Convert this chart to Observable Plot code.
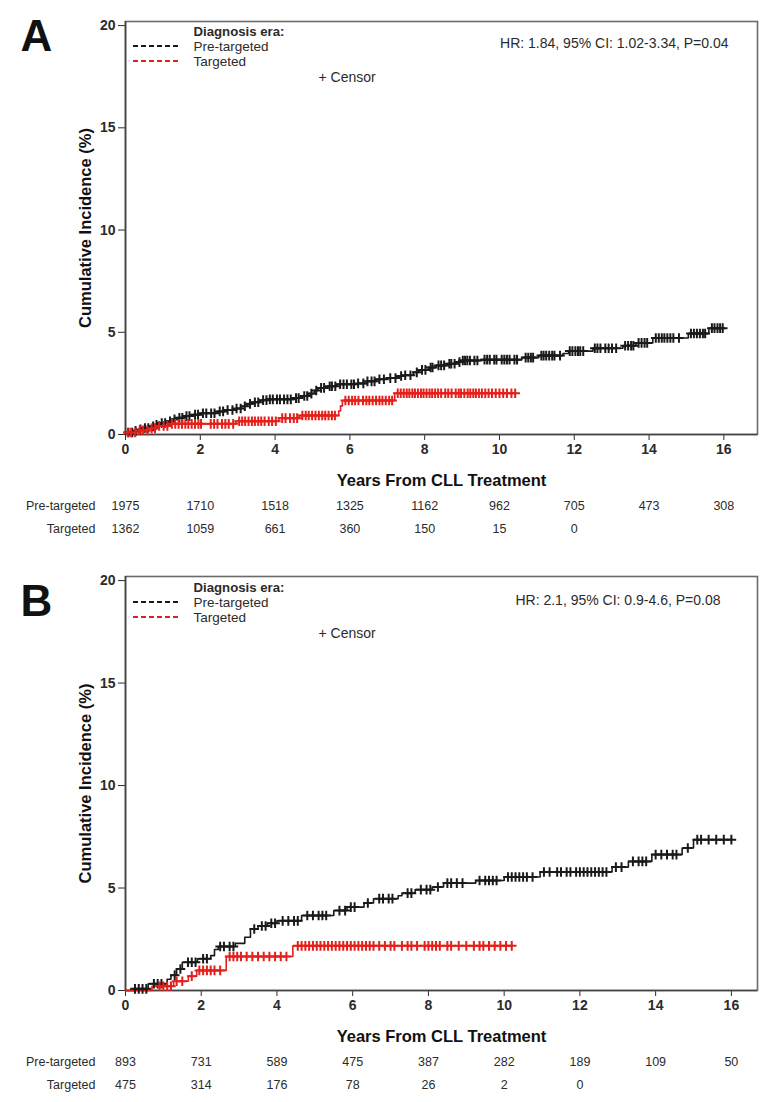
<!DOCTYPE html>
<html>
<head>
<meta charset="utf-8">
<script src="https://cdn.jsdelivr.net/npm/d3@7"></script>
<script src="https://cdn.jsdelivr.net/npm/@observablehq/plot@0.6"></script>
<style>
  body { margin: 0; background: #fff; }
  #chart svg { display: block; }
</style>
</head>
<body>
<div id="chart"></div>
<script>
// Groups and colours
const groups = ["Pre-targeted", "Targeted"];
const groupColors = ["#1a1a1a", "#e3201b"];

// Axis ticks (years) shared by both panels and the at-risk tables
const years = [0, 2, 4, 6, 8, 10, 12, 14, 16];
const yTicks = [0, 5, 10, 15, 20];

// ---- Panel A: cumulative incidence steps [years, %] ----
const aPreSteps = [
  [0, 0.1], [0.2, 0.18], [0.35, 0.25], [0.5, 0.32], [0.65, 0.4], [0.8, 0.48], [0.95, 0.56],
  [1.1, 0.65], [1.25, 0.74], [1.4, 0.82], [1.55, 0.9], [1.75, 0.97], [2.0, 1.04], [2.45, 1.13],
  [2.65, 1.2], [2.95, 1.27], [3.1, 1.38], [3.25, 1.5], [3.4, 1.58], [3.6, 1.68], [3.8, 1.72],
  [4.5, 1.78], [4.7, 1.88], [4.9, 2.0], [5.05, 2.15], [5.15, 2.28], [5.4, 2.36], [5.65, 2.46],
  [6.2, 2.5], [6.45, 2.6], [6.7, 2.7], [7.0, 2.76], [7.25, 2.86], [7.4, 2.9], [7.7, 3.04],
  [7.85, 3.16], [8.1, 3.28], [8.3, 3.38], [8.6, 3.46], [8.85, 3.54], [9.0, 3.62], [9.5, 3.66],
  [10.6, 3.76], [11.05, 3.86], [11.7, 3.96], [11.85, 4.08], [12.5, 4.22], [13.3, 4.34],
  [13.65, 4.48], [14.1, 4.72], [15.05, 4.94], [15.6, 5.2], [15.98, 5.2]
];
const aTgtSteps = [
  [0, 0.1], [0.3, 0.2], [0.6, 0.3], [0.85, 0.42], [1.15, 0.52], [2.95, 0.65], [4.1, 0.8],
  [4.65, 0.93], [5.7, 1.15], [5.75, 1.4], [5.8, 1.66], [7.2, 2.02], [10.42, 2.02]
];
// Censoring times (years)
const aPreCensor = [
  0.08, 0.18, 0.27, 0.4, 0.52, 0.61, 0.74, 0.83, 0.97, 1.06, 1.19, 1.31, 1.44, 1.52, 1.63, 1.71,
  1.86, 1.94, 2.07, 2.16, 2.29, 2.38, 2.52, 2.61, 2.73, 2.86, 2.97, 3.08, 3.19, 3.33, 3.46, 3.55,
  3.68, 3.77, 3.86, 3.94, 4.05, 4.13, 4.24, 4.33, 4.42, 4.56, 4.63, 4.78, 4.86, 4.97, 5.1, 5.23,
  5.31, 5.46, 5.52, 5.61, 5.74, 5.83, 5.92, 6.04, 6.11, 6.22, 6.36, 6.47, 6.58, 6.66, 6.79, 6.91,
  7.08, 7.22, 7.37, 7.48, 7.62, 7.79, 7.93, 8.02, 8.16, 8.21, 8.37, 8.44, 8.52, 8.66, 8.71, 8.8,
  8.93, 9.02, 9.08, 9.14, 9.21, 9.33, 9.41, 9.6, 9.67, 9.74, 9.86, 9.92, 10.06, 10.13, 10.2,
  10.27, 10.4, 10.47, 10.7, 10.77, 10.84, 10.9, 11.12, 11.18, 11.25, 11.33, 11.41, 11.47, 11.62,
  11.88, 11.95, 12.03, 12.1, 12.16, 12.24, 12.55, 12.62, 12.7, 12.83, 12.92, 13.01, 13.12, 13.36,
  13.44, 13.52, 13.58, 13.72, 13.8, 13.88, 13.95, 14.18, 14.26, 14.34, 14.41, 14.49, 14.57,
  14.65, 14.8, 15.12, 15.2, 15.28, 15.36, 15.44, 15.5, 15.68, 15.75, 15.83, 15.9, 15.97
];
const aTgtCensor = [
  0.06, 0.15, 0.26, 0.38, 0.47, 0.58, 0.7, 0.79, 0.9, 1.02, 1.12, 1.24, 1.33, 1.42, 1.51, 1.6,
  1.68, 1.77, 1.86, 1.95, 2.02, 2.28, 2.37, 2.46, 2.58, 2.67, 2.76, 2.88, 3.04, 3.12, 3.2, 3.29,
  3.38, 3.46, 3.55, 3.63, 3.72, 3.83, 3.92, 4.02, 4.19, 4.28, 4.4, 4.5, 4.59, 4.73, 4.82, 4.9,
  4.99, 5.08, 5.17, 5.26, 5.34, 5.43, 5.52, 5.6, 5.88, 5.97, 6.06, 6.14, 6.23, 6.35, 6.44, 6.52,
  6.61, 6.7, 6.79, 6.87, 6.96, 7.05, 7.13, 7.28, 7.36, 7.44, 7.52, 7.59, 7.67, 7.74, 7.82, 7.9,
  7.97, 8.05, 8.13, 8.2, 8.28, 8.36, 8.44, 8.55, 8.63, 8.72, 8.83, 8.91, 8.97, 9.06, 9.15, 9.22,
  9.3, 9.37, 9.45, 9.53, 9.62, 9.71, 9.8, 9.9, 10.0, 10.1, 10.2, 10.32, 10.42
];
const aPreAtRisk = [1975, 1710, 1518, 1325, 1162, 962, 705, 473, 308];
const aTgtAtRisk = [1362, 1059, 661, 360, 150, 15, 0];
const aHazard = "HR: 1.84, 95% CI: 1.02-3.34, P=0.04";

// ---- Panel B ----
const bPreSteps = [
  [0, 0], [0.22, 0.08], [0.6, 0.33], [1.1, 0.55], [1.2, 0.75], [1.35, 1.05], [1.5, 1.38],
  [1.9, 1.55], [2.25, 1.7], [2.35, 2.0], [2.45, 2.15], [2.9, 2.3], [3.15, 2.6], [3.3, 3.0],
  [3.5, 3.15], [3.75, 3.28], [4.0, 3.4], [4.65, 3.66], [5.5, 3.9], [5.85, 4.07], [6.3, 4.27],
  [6.55, 4.48], [7.2, 4.62], [7.3, 4.75], [7.65, 4.92], [8.1, 5.05], [8.4, 5.24], [9.25, 5.37],
  [10.0, 5.54], [10.95, 5.78], [12.85, 6.02], [13.28, 6.3], [13.9, 6.63], [14.7, 6.95],
  [15.0, 7.36], [16.03, 7.36]
];
const bTgtSteps = [
  [0, 0], [0.7, 0.21], [1.27, 0.45], [1.66, 0.7], [1.88, 0.98], [2.66, 1.66], [4.42, 2.18],
  [10.22, 2.18]
];
const bPreCensor = [
  0.25, 0.35, 0.45, 0.55, 0.75, 0.85, 0.95, 1.3, 1.45, 1.65, 1.75, 1.85, 2.05, 2.15, 2.5, 2.6,
  2.75, 2.85, 3.4, 3.6, 3.7, 3.85, 3.95, 4.15, 4.3, 4.45, 4.55, 4.8, 4.95, 5.1, 5.2, 5.3, 5.65,
  5.8, 5.95, 6.05, 6.4, 6.7, 6.8, 6.95, 7.05, 7.45, 7.55, 7.8, 7.95, 8.05, 8.25, 8.5, 8.6, 8.75,
  8.9, 9.35, 9.5, 9.6, 9.7, 9.8, 10.1, 10.2, 10.3, 10.4, 10.5, 10.6, 10.75, 11.05, 11.2, 11.4,
  11.5, 11.65, 11.75, 11.9, 12.0, 12.1, 12.2, 12.3, 12.4, 12.5, 12.6, 12.7, 12.95, 13.1, 13.4,
  13.55, 13.65, 13.75, 14.0, 14.15, 14.3, 14.45, 14.55, 14.85, 15.1, 15.2, 15.4, 15.6, 15.8, 16.0
];
const bTgtCensor = [
  0.9, 1.0, 1.1, 1.2, 1.35, 1.5, 1.75, 1.95, 2.05, 2.15, 2.25, 2.35, 2.5, 2.75, 2.85, 2.95,
  3.05, 3.2, 3.35, 3.5, 3.65, 3.8, 3.95, 4.1, 4.25, 4.55, 4.65, 4.75, 4.85, 4.95, 5.05, 5.15,
  5.25, 5.35, 5.45, 5.55, 5.65, 5.75, 5.85, 5.95, 6.05, 6.15, 6.25, 6.35, 6.45, 6.55, 6.7, 6.85,
  7.0, 7.1, 7.3, 7.45, 7.55, 7.7, 7.9, 8.0, 8.1, 8.2, 8.3, 8.5, 8.6, 8.8, 9.0, 9.2, 9.35, 9.45,
  9.6, 9.75, 9.9, 10.05, 10.2
];
const bPreAtRisk = [893, 731, 589, 475, 387, 282, 189, 109, 50];
const bTgtAtRisk = [475, 314, 176, 78, 26, 2, 0];
const bHazard = "HR: 2.1, 95% CI: 0.9-4.6, P=0.08";

// Text
const legendTitle = "Diagnosis era:";
const censorLabel = "+ Censor";
const xTitle = "Years From CLL Treatment";
const yTitle = "Cumulative Incidence (%)";

const sans = "'Liberation Sans', Arial, sans-serif";
const ink = "#2b2b2b";

// value of a step curve at time t
function levelAt(steps, t) {
  let v = steps[0][1];
  for (const [s, y] of steps) { if (s <= t) v = y; else break; }
  return v;
}

function label(text, options) {
  return Plot.text([text], {text: (d) => d, fontFamily: sans, fill: ink, lineAnchor: "middle", fontWeight: "normal", ...options});
}

function panel(cfg) {
  const stepSets = [cfg.preSteps, cfg.tgtSteps];
  const censorSets = [cfg.preCensor, cfg.tgtCensor];
  const curves = groups.flatMap((g, i) => stepSets[i].map(([t, v]) => ({group: g, t, v})));
  const censors = groups.flatMap((g, i) => censorSets[i].map((t) => ({group: g, t, v: levelAt(stepSets[i], t)})));
  const risk = (arr) => arr.map((n, i) => ({t: years[i], n: String(n)}));
  const legendRows = [cfg.legendDy + 15, cfg.legendDy + 30];

  return Plot.plot({
    width: 780,
    height: cfg.height,
    marginLeft: 125,
    marginRight: 23,
    marginTop: 21,
    marginBottom: cfg.marginBottom,
    style: {fontFamily: sans, fontSize: "14px", fontWeight: "bold", color: ink, background: "#fff", overflow: "visible"},
    x: {domain: [0, cfg.xMax], ticks: years, tickSize: 6, tickPadding: 4, tickFormat: (d) => d, label: null},
    y: {domain: [0, 20.2], ticks: yTicks, tickSize: 7, tickPadding: 3, label: null},
    color: {domain: groups, range: groupColors},
    marks: [
      Plot.frame({stroke: "#6a6a6a", strokeWidth: 1.6}),
      Plot.ruleX([0], {stroke: "#444", strokeWidth: 1.6}),
      Plot.ruleY([0], {stroke: "#444", strokeWidth: 1.6}),
      Plot.line(curves, {x: "t", y: "v", z: "group", stroke: "group", curve: "step-after", strokeWidth: 1.6}),
      Plot.dot(censors, {x: "t", y: "v", stroke: "group", symbol: "plus", r: 3.2, strokeWidth: 2}),
      // panel letter
      label(cfg.letter, {frameAnchor: "top-left", dx: -105, dy: cfg.letterDy, textAnchor: "start",
        fontSize: 44, fontWeight: "bold", fill: "#111"}),
      // hazard ratio note
      label(cfg.hazard, {frameAnchor: "top-right", dx: cfg.hrDx, dy: cfg.hrDy, textAnchor: "end", fontSize: 14}),
      // legend
      label(legendTitle, {frameAnchor: "top-left", dx: 68, dy: cfg.legendDy, textAnchor: "start",
        fontSize: 13.2, fontWeight: "bold"}),
      label(groups[0], {frameAnchor: "top-left", dx: 68, dy: legendRows[0], textAnchor: "start", fontSize: 13.5}),
      label(groups[1], {frameAnchor: "top-left", dx: 68, dy: legendRows[1], textAnchor: "start", fontSize: 13.5}),
      (index, scales, values, dims) => {
        const g = d3.create("svg:g");
        groups.forEach((grp, i) => {
          g.append("line")
            .attr("x1", dims.marginLeft + 8).attr("x2", dims.marginLeft + 55)
            .attr("y1", dims.marginTop + legendRows[i]).attr("y2", dims.marginTop + legendRows[i])
            .attr("stroke", groupColors[i]).attr("stroke-width", 2.2).attr("stroke-dasharray", "5,3");
        });
        return g.node();
      },
      label(censorLabel, {frameAnchor: "top-left", dx: 193, dy: cfg.legendDy + 46, textAnchor: "start", fontSize: 14}),
      // axis titles
      label(xTitle, {frameAnchor: "bottom", dy: 46, textAnchor: "middle", fontSize: 16.5, fontWeight: "bold", fill: "#111"}),
      label(yTitle, {frameAnchor: "left", dx: -40, rotate: -90, textAnchor: "middle", fontSize: 16.5, fontWeight: "bold", fill: "#111"}),
      // numbers at risk
      label(groups[0], {frameAnchor: "bottom-left", dx: -30, dy: 71, textAnchor: "end", fontSize: 12.5}),
      label(groups[1], {frameAnchor: "bottom-left", dx: -30, dy: 94, textAnchor: "end", fontSize: 12.5}),
      Plot.text(risk(cfg.preAtRisk), {x: "t", text: "n", frameAnchor: "bottom", dy: 71, lineAnchor: "middle",
        fontSize: 12.5, fontWeight: "normal", fontFamily: sans, fill: ink}),
      Plot.text(risk(cfg.tgtAtRisk), {x: "t", text: "n", frameAnchor: "bottom", dy: 94, lineAnchor: "middle",
        fontSize: 12.5, fontWeight: "normal", fontFamily: sans, fill: ink})
    ]
  });
}

const chart = document.getElementById("chart");
chart.append(panel({
  letter: "A", hazard: aHazard, xMax: 16.9, height: 555, marginBottom: 121,
  preSteps: aPreSteps, tgtSteps: aTgtSteps, preCensor: aPreCensor, tgtCensor: aTgtCensor,
  preAtRisk: aPreAtRisk, tgtAtRisk: aTgtAtRisk,
  letterDy: 15, hrDx: -29, hrDy: 22, legendDy: 10
}));
chart.append(panel({
  letter: "B", hazard: bHazard, xMax: 16.69, height: 547, marginBottom: 112,
  preSteps: bPreSteps, tgtSteps: bTgtSteps, preCensor: bPreCensor, tgtCensor: bTgtCensor,
  preAtRisk: bPreAtRisk, tgtAtRisk: bTgtAtRisk,
  letterDy: 25, hrDx: -37, hrDy: 24, legendDy: 11
}));
</script>
</body>
</html>
